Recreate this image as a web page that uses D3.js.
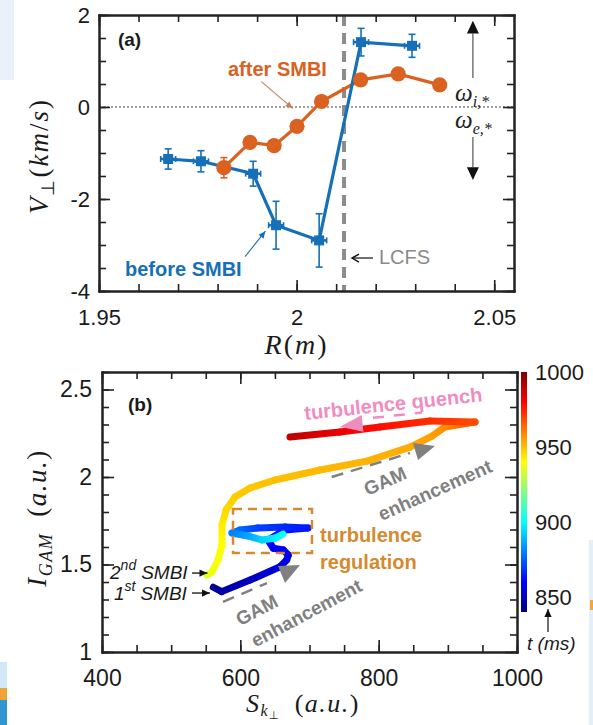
<!DOCTYPE html>
<html>
<head>
<meta charset="utf-8">
<script src="https://cdn.jsdelivr.net/npm/d3@7"></script>
<style>
  html, body { margin: 0; padding: 0; background: #fff; }
  svg { display: block; }
</style>
</head>
<body>
<svg id="fig" width="593" height="725"></svg>
<script>
// ---------- (a) perpendicular velocity profiles across the edge ----------
const R_before = [1.9675, 1.9758, 1.9890, 1.9948, 2.0057, 2.0163, 2.0292];
const V_before = [-1.13, -1.18, -1.45, -2.57, -2.90, 1.41, 1.33];
const E_before = [0.22, 0.23, 0.27, 0.52, 0.58, 0.30, 0.25];
const R_after  = [1.9816, 1.9882, 1.9943, 2.0001, 2.0063, 2.0162, 2.0257, 2.0362];
const V_after  = [-1.32, -0.77, -0.84, -0.42, 0.12, 0.59, 0.72, 0.48];
const E_after  = [0.22, 0.10, 0.10, 0.10, 0.10, 0.10, 0.10, 0.10];
const R_LCFS = 2.012;
const xTicksA = [1.95, 2, 2.05];
const yTicksA = [-4, -2, 0, 2];

// ---------- (b) GAM intensity vs turbulence drive, coloured by time ----------
// trajectory after the 1st SMBI
const S_first = [560.9, 573.1, 614.0, 657.4, 667.0, 669.4, 662.1, 647.7, 640.0, 664.6, 697.8, 664.6, 625.5, 599.5, 588.0, 611.1, 631.3, 650.1, 661.7];
const I_first = [1.370, 1.345, 1.411, 1.487, 1.526, 1.554, 1.583, 1.593, 1.640, 1.697, 1.709, 1.714, 1.709, 1.697, 1.680, 1.663, 1.640, 1.651, 1.674];
const t_first = [843, 846, 850, 854, 856, 857, 858, 860, 861, 862, 864, 866, 870, 876, 880, 886, 893, 898, 902];
// trajectory after the 2nd SMBI
const S_second = [551.8, 559.0, 567.7, 573.5, 573.5, 579.3, 592.3, 614.0, 650.1, 715.2, 783.1, 845.3, 877.1, 895.9, 939.3, 874.2, 801.9, 744.1, 671.8];
const I_second = [1.440, 1.457, 1.526, 1.611, 1.726, 1.811, 1.886, 1.937, 1.983, 2.040, 2.091, 2.171, 2.234, 2.286, 2.314, 2.320, 2.286, 2.257, 2.229];
const t_second = [936, 938, 939, 940, 943, 946, 948, 949, 950, 951, 952, 953, 955, 958, 968, 973, 978, 983, 990];
const xTicksB = [400, 600, 800, 1000];
const yTicksB = [1, 1.5, 2, 2.5];
const tTicks = [850, 900, 950, 1000];
const tRange = [840, 1000];

const svg = d3.select('#fig');
const defs = svg.append('defs');
const FONT = "'Liberation Sans', Arial, Helvetica, sans-serif";
const SERIF = "'Liberation Serif', 'Times New Roman', serif";
const BLUE = '#1670b8', ORANGE = '#da611f', GRAY = '#808080', PINK = '#f08dbf', TAN = '#d58a2f';

// remnants of the slide background along the edges
svg.append('rect').attr('x', 0).attr('y', 0).attr('width', 14).attr('height', 80).attr('fill', '#eaf1fa');
svg.append('rect').attr('x', 0).attr('y', 662).attr('width', 7).attr('height', 26).attr('fill', '#d3e8f6');
svg.append('rect').attr('x', 0).attr('y', 688).attr('width', 7).attr('height', 12).attr('fill', '#f0a436');
svg.append('rect').attr('x', 0).attr('y', 700).attr('width', 7).attr('height', 25).attr('fill', '#2f95d3');
svg.append('rect').attr('x', 589).attr('y', 540).attr('width', 4).attr('height', 185).attr('fill', '#e3eff9');
svg.append('rect').attr('x', 590).attr('y', 600).attr('width', 3).attr('height', 10).attr('fill', '#f2a640');

// jet colour map on [0,1]
function jet(v) {
  const c = x => Math.max(0, Math.min(1, x));
  const r = c(Math.min(4 * v - 1.5, -4 * v + 4.5));
  const g = c(Math.min(4 * v - 0.5, -4 * v + 3.5));
  const b = c(Math.min(4 * v + 0.5, -4 * v + 2.5));
  return d3.rgb(r * 255, g * 255, b * 255).formatHex();
}
const tNorm = d3.scaleLinear(tRange, [0, 1]);
const tColor = t => jet(tNorm(t));

// boxed frame with inward ticks on all four sides
function frame(g, x, y, o) {
  const [x0, x1] = x.domain(), [y0, y1] = y.domain();
  const ax = (maker, scale, vals, len, fmt, pad) =>
    maker(scale).tickValues(vals).tickSizeInner(-len).tickSizeOuter(0)
      .tickPadding(pad || 3).tickFormat(fmt || (() => ''));
  const put = (axis, tx, ty) => g.append('g').attr('transform', `translate(${tx},${ty})`).call(axis);
  put(ax(d3.axisBottom, x, o.xMinor, o.minor), 0, y(y0));
  put(ax(d3.axisBottom, x, o.xMajor, o.major, String, o.xPad), 0, y(y0));
  put(ax(d3.axisTop, x, o.xMinor, o.minor), 0, y(y1));
  put(ax(d3.axisTop, x, o.xMajor, o.major), 0, y(y1));
  put(ax(d3.axisLeft, y, o.yMinor, o.minor), x(x0), 0);
  put(ax(d3.axisLeft, y, o.yMajor, o.major, String, o.yPad), x(x0), 0);
  put(ax(d3.axisRight, y, o.yMinor, o.minor), x(x1), 0);
  put(ax(d3.axisRight, y, o.yMajor, o.major), x(x1), 0);
  g.selectAll('.domain').attr('stroke', '#222').attr('stroke-width', 2).attr('stroke-linecap', 'square');
  g.selectAll('.tick line').attr('stroke', '#222').attr('stroke-width', 1.6);
  g.selectAll('.tick text').attr('font-family', FONT).attr('font-size', o.fs).attr('fill', '#1a1a1a');
}

function triangle(g, pts, fill) {
  g.append('path').attr('d', 'M' + pts.map(p => p.join(',')).join('L') + 'Z').attr('fill', fill);
}
function arrow(g, x1, y1, x2, y2, color, head, w) {
  g.append('line').attr('x1', x1).attr('y1', y1).attr('x2', x2).attr('y2', y2)
    .attr('stroke', color).attr('stroke-width', w || 1.2);
  const a = Math.atan2(y2 - y1, x2 - x1), L = head, s = head * 0.45;
  const bx = x2 - L * Math.cos(a), by = y2 - L * Math.sin(a);
  triangle(g, [[x2, y2], [bx + s * Math.sin(a), by - s * Math.cos(a)], [bx - s * Math.sin(a), by + s * Math.cos(a)]], color);
}

// =============================== panel (a) ===============================
const xa = d3.scaleLinear([1.95, 2.055], [99, 514]);
const ya = d3.scaleLinear([-4, 2], [291, 15]);
const ga = svg.append('g');

ga.append('line').attr('x1', xa(1.95)).attr('x2', xa(2.055)).attr('y1', ya(0)).attr('y2', ya(0))
  .attr('stroke', '#444').attr('stroke-width', 1).attr('stroke-dasharray', '2,2');
ga.append('line').attr('x1', xa(R_LCFS)).attr('x2', xa(R_LCFS)).attr('y1', ya(2)).attr('y2', ya(-4))
  .attr('stroke', '#8c8c8c').attr('stroke-width', 4).attr('stroke-dasharray', '11,7');

const afterPts = R_after.map((r, i) => [xa(r), ya(V_after[i])]);
const beforePts = R_before.map((r, i) => [xa(r), ya(V_before[i])]);
ga.append('path').attr('d', d3.line()(afterPts)).attr('fill', 'none').attr('stroke', ORANGE).attr('stroke-width', 3.2);
ga.append('path').attr('d', d3.line()(beforePts)).attr('fill', 'none').attr('stroke', BLUE).attr('stroke-width', 3.2);

// orange: error bars and circles
R_after.forEach((r, i) => {
  const x = xa(r), y1 = ya(V_after[i] - E_after[i]), y2 = ya(V_after[i] + E_after[i]);
  ga.append('line').attr('x1', x).attr('x2', x).attr('y1', y1).attr('y2', y2).attr('stroke', ORANGE).attr('stroke-width', 1.6);
  [y1, y2].forEach(y => ga.append('line').attr('x1', x - 3.5).attr('x2', x + 3.5).attr('y1', y).attr('y2', y).attr('stroke', ORANGE).attr('stroke-width', 1.6));
  ga.append('circle').attr('cx', x).attr('cy', ya(V_after[i])).attr('r', 7.6).attr('fill', ORANGE);
});
// blue: error bars and square markers
R_before.forEach((r, i) => {
  const x = xa(r), y = ya(V_before[i]);
  const y1 = ya(V_before[i] - E_before[i]), y2 = ya(V_before[i] + E_before[i]);
  ga.append('line').attr('x1', x).attr('x2', x).attr('y1', y1).attr('y2', y2).attr('stroke', BLUE).attr('stroke-width', 1.6);
  [y1, y2].forEach(yy => ga.append('line').attr('x1', x - 3.5).attr('x2', x + 3.5).attr('y1', yy).attr('y2', yy).attr('stroke', BLUE).attr('stroke-width', 1.6));
  ga.append('line').attr('x1', x - 7.5).attr('x2', x + 7.5).attr('y1', y).attr('y2', y).attr('stroke', BLUE).attr('stroke-width', 2.6);
  [x - 7.5, x + 7.5].forEach(xx => ga.append('line').attr('x1', xx).attr('x2', xx).attr('y1', y - 3).attr('y2', y + 3).attr('stroke', BLUE).attr('stroke-width', 1.6));
  ga.append('rect').attr('x', x - 5).attr('y', y - 5).attr('width', 10).attr('height', 10).attr('fill', BLUE);
});

frame(ga, xa, ya, {
  xMinor: d3.range(195, 206).map(d => d / 100), xMajor: xTicksA,
  yMinor: d3.range(-8, 5).map(d => d / 2), yMajor: yTicksA,
  minor: 7, major: 11, xPad: 18, yPad: 9, fs: 22
});

// annotations
ga.append('text').attr('x', xa(1.9548)).attr('y', ya(1.33)).attr('font-family', FONT).attr('font-weight', 'bold')
  .attr('font-size', 19).attr('fill', '#1a1a1a').text('(a)');
ga.append('text').attr('x', xa(1.98264)).attr('y', ya(0.674)).attr('font-family', FONT).attr('font-weight', 'bold')
  .attr('font-size', 20).attr('fill', ORANGE).text('after SMBI');
arrow(ga, xa(1.99109), ya(0.55), xa(1.99901), ya(-0.03), '#c4805a', 7, 1.1);
ga.append('text').attr('x', xa(1.95658)).attr('y', ya(-3.674)).attr('font-family', FONT).attr('font-weight', 'bold')
  .attr('font-size', 20).attr('fill', BLUE).text('before SMBI');
arrow(ga, xa(1.98694), ya(-3.254), xa(1.9921), ya(-2.70), BLUE, 7, 1.1);
// LCFS marker
{
  const y = ya(-3.283), xs = xa(2.01933), xe = xa(2.01401);
  ga.append('line').attr('x1', xs).attr('x2', xe).attr('y1', y).attr('y2', y).attr('stroke', '#111').attr('stroke-width', 1.2);
  ga.append('path').attr('d', `M${xe + 7},${y - 4}L${xe},${y}L${xe + 7},${y + 4}`).attr('fill', 'none').attr('stroke', '#111').attr('stroke-width', 1.4);
  ga.append('text').attr('x', xa(2.02084)).attr('y', ya(-3.413)).attr('font-family', FONT)
    .attr('font-size', 20).attr('fill', '#8a8a8a').text('LCFS');
}
// ion / electron diamagnetic directions
{
  const x = xa(2.0446);
  ga.append('line').attr('x1', x).attr('x2', x).attr('y1', ya(0.63)).attr('y2', ya(1.6)).attr('stroke', '#555').attr('stroke-width', 1.2);
  triangle(ga, [[x, ya(1.876)], [x - 6, ya(1.6)], [x + 6, ya(1.6)]], '#111');
  ga.append('line').attr('x1', x).attr('x2', x).attr('y1', ya(-0.652)).attr('y2', ya(-1.31)).attr('stroke', '#555').attr('stroke-width', 1.2);
  triangle(ga, [[x, ya(-1.587)], [x - 6, ya(-1.31)], [x + 6, ya(-1.31)]], '#111');
  [['i', 0.13], ['e', -0.457]].forEach(([s, v]) => {
    const t = ga.append('text').attr('x', xa(2.04007)).attr('y', ya(v)).attr('font-family', SERIF)
      .attr('font-style', 'italic').attr('font-size', 25).attr('fill', '#222');
    t.append('tspan').text('ω');
    t.append('tspan').attr('dy', 6).attr('font-size', 16).text(s + ',*');
  });
}
// axis titles
{
  const t = ga.append('text').attr('transform', `translate(48,${156}) rotate(-90)`).attr('text-anchor', 'middle')
    .attr('font-family', SERIF).attr('font-size', 27).attr('fill', '#1a1a1a').attr('letter-spacing', 2);
  t.append('tspan').attr('font-style', 'italic').text('V');
  t.append('tspan').attr('dy', 6).attr('font-size', 18).text('⊥');
  t.append('tspan').attr('dy', -6).text('(');
  t.append('tspan').attr('font-style', 'italic').text('km');
  t.append('tspan').text('/');
  t.append('tspan').attr('font-style', 'italic').text('s');
  t.append('tspan').text(')');
  const r = ga.append('text').attr('x', xa(2.0)).attr('y', 354).attr('text-anchor', 'middle')
    .attr('font-family', SERIF).attr('font-size', 28).attr('fill', '#1a1a1a').attr('letter-spacing', 2);
  r.append('tspan').attr('font-style', 'italic').text('R');
  r.append('tspan').text('(');
  r.append('tspan').attr('font-style', 'italic').text('m');
  r.append('tspan').text(')');
}

// =============================== panel (b) ===============================
const xb = d3.scaleLinear([400, 1000], [102, 517]);
const yb = d3.scaleLinear([1, 2.6], [652, 372]);
const gb = svg.append('g');
let gradId = 0;

function track(S, I, T, w) {
  for (let i = 0; i < S.length - 1; i++) {
    const x1 = xb(S[i]), y1 = yb(I[i]), x2 = xb(S[i + 1]), y2 = yb(I[i + 1]);
    const id = 'seg' + (gradId++);
    const lg = defs.append('linearGradient').attr('id', id).attr('gradientUnits', 'userSpaceOnUse')
      .attr('x1', x1).attr('y1', y1).attr('x2', x2 + 0.01).attr('y2', y2 + 0.01);
    lg.append('stop').attr('offset', 0).attr('stop-color', tColor(T[i]));
    lg.append('stop').attr('offset', 1).attr('stop-color', tColor(T[i + 1]));
    gb.append('line').attr('x1', x1).attr('y1', y1).attr('x2', x2).attr('y2', y2)
      .attr('stroke', `url(#${id})`).attr('stroke-width', w).attr('stroke-linecap', 'round');
  }
}
track(S_first, I_first, t_first, 7);
track(S_second, I_second, t_second, 7);

// turbulence regulation window
gb.append('rect').attr('x', xb(589.4)).attr('y', yb(1.817)).attr('width', xb(703.6) - xb(589.4)).attr('height', yb(1.566) - yb(1.817))
  .attr('fill', 'none').attr('stroke', TAN).attr('stroke-width', 2.5).attr('stroke-dasharray', '9,6');
gb.append('text').attr('x', xb(715.2)).attr('y', yb(1.629)).attr('font-family', FONT).attr('font-weight', 'bold')
  .attr('font-size', 20).attr('fill', TAN).text('turbulence');
gb.append('text').attr('x', xb(715.2)).attr('y', yb(1.474)).attr('font-family', FONT).attr('font-weight', 'bold')
  .attr('font-size', 20).attr('fill', TAN).text('regulation');

// turbulence quench
gb.append('line').attr('x1', xb(791.8)).attr('y1', yb(2.338)).attr('x2', xb(862.7)).attr('y2', yb(2.368))
  .attr('stroke', PINK).attr('stroke-width', 2.5).attr('stroke-dasharray', '11,10');
triangle(gb, [[xb(744.1), yb(2.287)], [xb(775.5), yb(2.354)], [xb(777.9), yb(2.259)]], PINK);
gb.append('text').attr('transform', `translate(${xb(693.5)},${yb(2.326)}) rotate(-6)`).attr('font-family', FONT)
  .attr('font-weight', 'bold').attr('font-size', 20).attr('fill', PINK).text('turbulence quench');

// GAM enhancement (upper)
gb.append('line').attr('x1', xb(732.1)).attr('y1', yb(2.0)).attr('x2', xb(845.3)).attr('y2', yb(2.137))
  .attr('stroke', GRAY).attr('stroke-width', 2.5).attr('stroke-dasharray', '12,8');
triangle(gb, [[xb(881.4), yb(2.177)], [xb(849.6), yb(2.194)], [xb(856.9), yb(2.097)]], GRAY);
[['GAM', 809.2, 1.977], ['enhancement', 881.4, 1.926]].forEach(([s, S, I]) =>
  gb.append('text').attr('transform', `translate(${xb(S)},${yb(I)}) rotate(-24)`).attr('text-anchor', 'middle')
    .attr('dy', '0.35em').attr('font-family', FONT).attr('font-weight', 'bold').attr('font-size', 19).attr('fill', GRAY).text(s));
// GAM enhancement (lower)
gb.append('line').attr('x1', xb(574.9)).attr('y1', yb(1.286)).attr('x2', xb(638.6)).attr('y2', yb(1.394))
  .attr('stroke', GRAY).attr('stroke-width', 2.5).attr('stroke-dasharray', '12,8');
triangle(gb, [[xb(686.3), yb(1.497)], [xb(654.5), yb(1.491)], [xb(664.6), yb(1.394)]], GRAY);
[['GAM', 623.7, 1.24], ['enhancement', 695.6, 1.223]].forEach(([s, S, I]) =>
  gb.append('text').attr('transform', `translate(${xb(S)},${yb(I)}) rotate(-28)`).attr('text-anchor', 'middle')
    .attr('dy', '0.35em').attr('font-family', FONT).attr('font-weight', 'bold').attr('font-size', 19).attr('fill', GRAY).text(s));

frame(gb, xb, yb, {
  xMinor: d3.range(400, 1001, 50), xMajor: xTicksB,
  yMinor: d3.range(10, 27).map(d => d / 10), yMajor: yTicksB,
  minor: 7, major: 12, xPad: 18, yPad: 10, fs: 23
});

gb.append('text').attr('x', xb(437.6)).attr('y', yb(2.377)).attr('font-family', FONT).attr('font-weight', 'bold')
  .attr('font-size', 19).attr('fill', '#1a1a1a').text('(b)');

// SMBI markers
[['2', 'nd', 411.6, 1.417, 530.1, 552.5, 1.451], ['1', 'st', 417.3, 1.297, 530.1, 556.1, 1.337]].forEach(([n, sup, S, I, a0, a1, Ia]) => {
  const t = gb.append('text').attr('x', xb(S)).attr('y', yb(I)).attr('font-family', FONT).attr('font-style', 'italic')
    .attr('font-size', 19).attr('fill', '#1a1a1a');
  t.append('tspan').text(n);
  t.append('tspan').attr('dy', -9).attr('font-size', 14).text(sup);
  t.append('tspan').attr('dy', 9).attr('dx', 5).text('SMBI');
  arrow(gb, xb(a0), yb(Ia), xb(a1), yb(Ia), '#111', 8, 1.3);
});

// axis titles
{
  const t = gb.append('text').attr('transform', `translate(46,${518}) rotate(-90)`).attr('text-anchor', 'middle')
    .attr('font-family', SERIF).attr('font-size', 27).attr('fill', '#1a1a1a').attr('letter-spacing', 1.5);
  t.append('tspan').attr('font-style', 'italic').text('I');
  t.append('tspan').attr('dy', 6).attr('font-size', 18).attr('font-style', 'italic').text('GAM');
  t.append('tspan').attr('dy', -6).attr('dx', 16).text('(');
  t.append('tspan').attr('font-style', 'italic').text('a.u.');
  t.append('tspan').text(')');
  const s = gb.append('text').attr('x', 303).attr('y', 712).attr('text-anchor', 'middle')
    .attr('font-family', SERIF).attr('font-size', 26).attr('fill', '#1a1a1a').attr('letter-spacing', 1.5);
  s.append('tspan').attr('font-style', 'italic').text('S');
  s.append('tspan').attr('dy', 4).attr('font-size', 16).attr('font-style', 'italic').text('k');
  s.append('tspan').attr('dy', 3).attr('font-size', 11).text('⊥');
  s.append('tspan').attr('dy', -7).attr('dx', 14).text('(');
  s.append('tspan').attr('font-style', 'italic').text('a.u.');
  s.append('tspan').text(')');
}

// colour bar for time
{
  const cy = d3.scaleLinear(tRange, [612, 372]);
  const cx = 521, cw = 6;
  const lg = defs.append('linearGradient').attr('id', 'tbar').attr('x1', 0).attr('y1', 1).attr('x2', 0).attr('y2', 0);
  d3.range(0, 1.0001, 0.025).forEach(o => lg.append('stop').attr('offset', o).attr('stop-color', jet(o)));
  gb.append('rect').attr('x', cx).attr('y', cy(tRange[1])).attr('width', cw).attr('height', cy(tRange[0]) - cy(tRange[1]))
    .attr('fill', 'url(#tbar)');
  tTicks.forEach(t => gb.append('text').attr('x', cx + 14).attr('y', cy(t)).attr('dy', '0.36em')
    .attr('font-family', FONT).attr('font-size', 22).attr('fill', '#1a1a1a').text(t));
  arrow(gb, 548, 632, 548, 609, '#111', 8, 1.2);
  gb.append('text').attr('x', 527).attr('y', 650).attr('font-family', FONT).attr('font-style', 'italic')
    .attr('font-size', 19).attr('fill', '#1a1a1a').text('t (ms)');
}
</script>
</body>
</html>
